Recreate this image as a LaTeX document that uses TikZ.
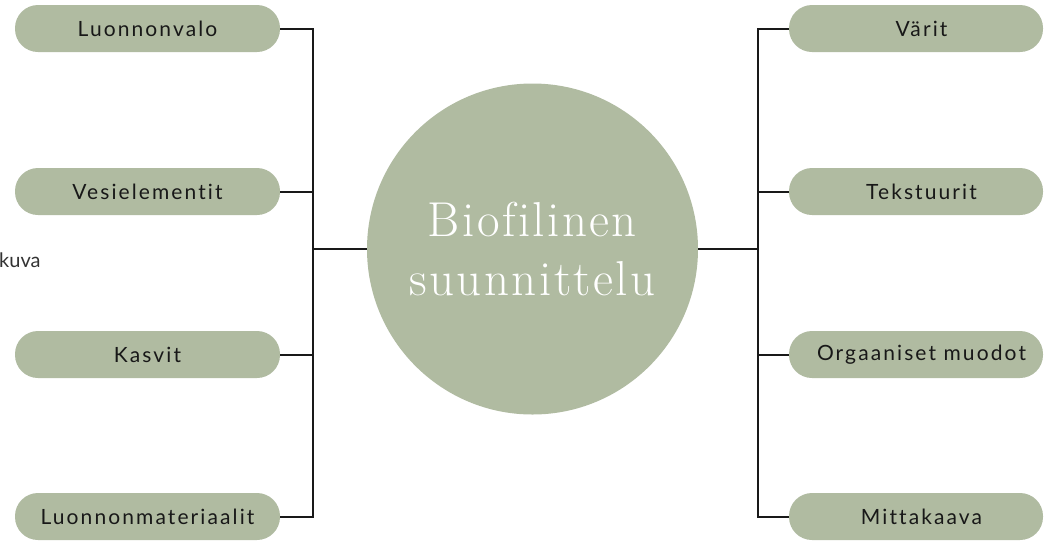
\documentclass[tikz,border=0pt]{standalone}
\usepackage{fontspec}
\newfontfamily\pillfont[LetterSpace=10,Ligatures=NoCommon]{Lato}
\newfontfamily\notefont{Lato}
\newfontfamily\hubfont[LetterSpace=5,Ligatures=NoCommon]{Latin Modern Roman}
\definecolor{sage}{RGB}{176,187,161}
\definecolor{pilltext}{RGB}{24,24,24}
\begin{document}
\begin{tikzpicture}[x=1pt, y=-1pt,
    pill/.style={fill=sage, rounded corners=23pt, minimum width=265pt, minimum height=47pt,
        inner sep=0pt, text=pilltext, font=\pillfont\fontsize{21}{24}\selectfont},
    rpill/.style={pill, minimum width=254pt},
    link/.style={line width=2pt, black!90}]
    \useasboundingbox (0,0) rectangle (1046,542);
    % Centre circle
    \node[circle, fill=sage, minimum size=331pt, inner sep=0pt, align=center, text=white,
        font=\hubfont\fontsize{49}{59}\selectfont] (hub) at (532.5,249) {Biofilinen\\suunnittelu};
    % Left branches
    \node[pill] (l1) at (147.5,28.5) {Luonnonvalo};
    \node[pill] (l2) at (147.5,191.5) {Vesielementit};
    \node[pill] (l3) at (147.5,354.5) {Kasvit};
    \node[pill] (l4) at (147.5,516.5) {Luonnonmateriaalit};
    % Right branches
    \node[rpill] (r1) at (916,28.5) {\hspace*{11pt}Värit};
    \node[rpill] (r2) at (916,191.5) {\hspace*{11pt}Tekstuurit};
    \node[rpill] (r3) at (916,354.5) {\hspace*{11pt}Orgaaniset muodot};
    \node[rpill] (r4) at (916,516.5) {\hspace*{11pt}Mittakaava};
    % Stray caption at the left edge
    \node[anchor=base west, inner sep=0pt, text=black!80, font=\notefont\fontsize{20}{24}\selectfont]
        (note) at (-1,267) {kuva};
    % Connectors
    \coordinate (lbus) at (313,249);
    \coordinate (rbus) at (758,249);
    \foreach \i in {1,...,4} {
        \draw[link] (l\i.east) -| (lbus);
        \draw[link] (r\i.west) -| (rbus);
    }
    \draw[link] (lbus) -- (hub.west);
    \draw[link] (hub.east) -- (rbus);
\end{tikzpicture}
\end{document}
